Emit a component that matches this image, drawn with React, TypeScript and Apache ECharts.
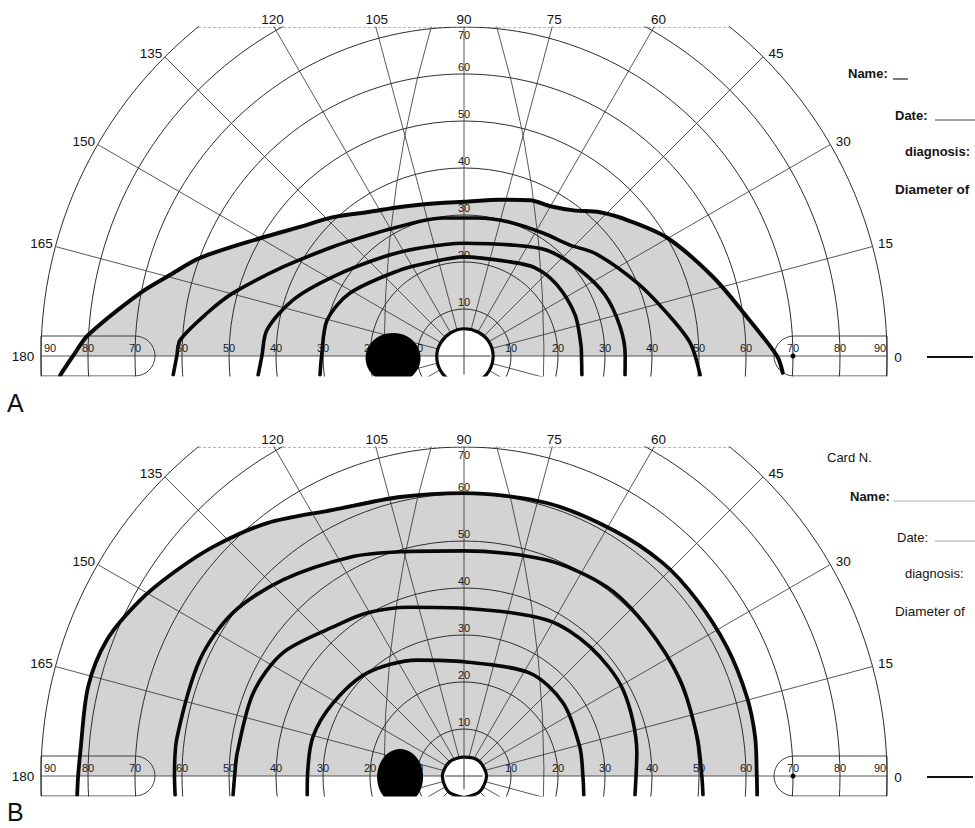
import React, { useEffect, useRef } from 'react';
import * as echarts from 'echarts';

// ---------- scale & grid ----------
const PX_PER_DEG = 4.7;
const CENTER_X = 464;
const MAX_ECC = 90;
const RING_INTERVAL = 10;
const MERIDIAN_INTERVAL = 15;
const MERIDIAN_LABELS = [0, 15, 30, 45, 60, 75, 90, 105, 120, 135, 150, 165, 180];
const RING_LABELS = [10, 20, 30, 40, 50, 60, 70, 80, 90];
const VERTICAL_RING_LABELS = [10, 20, 30, 40, 50, 60, 70];

// ---------- data: [eccentricity (deg), meridian (deg)] ----------
const A_ISOPTER_1 = [
  [86.0, 182.7], [83.2, 180], [80.1, 176.8], [70.2, 169.0], [64.9, 164.6], [59.9, 159.6],
  [50.1, 150.0], [44.4, 141.8], [40.6, 133.3], [36.6, 123], [34.5, 113.2], [33.0, 100],
  [32.8, 90], [34.1, 77], [36.0, 67], [36.8, 60], [38.8, 53], [42.1, 46.6], [45.2, 39.8],
  [50.0, 30.2], [55.6, 17.6], [60.8, 7.8], [66.6, 0], [67.9, -3.0],
];
const A_ISOPTER_2 = [
  [62.0, 183.7], [61.1, 180], [60.5, 176.8], [55.4, 170.5], [50.9, 164.7], [42.9, 153.8],
  [36.3, 140.2], [33.5, 131.4], [31.1, 119.0], [29.7, 98.7], [29.5, 84.6], [30.1, 71.1],
  [31.1, 57.3], [32.6, 46.5], [35.5, 37.8], [40.0, 22.9], [44.1, 12.0], [48.2, 3.3], [50.4, -4.6],
];
const A_ISOPTER_3 = [
  [44.0, 185.3], [43.0, 180], [42.3, 172.5], [38.3, 161.9], [32.6, 148.9], [27.2, 129.3],
  [24.8, 112.2], [24.0, 90], [25.6, 67.5], [28.6, 51.9], [30.7, 36.6], [32.7, 23.4],
  [33.8, 10.5], [34.3, 0], [34.5, -6.7],
];
const A_ISOPTER_4 = [
  [30.9, 187.5], [30.3, 180], [30.1, 165.3], [27.7, 151.1], [22.8, 126.7], [21.3, 111.7],
  [21.1, 90], [22.3, 63.9], [24.1, 51.1], [24.9, 37.4], [25.2, 20.3], [25.0, 5.4],
  [25.0, 0], [25.4, -9.1],
];
const A_CENTRAL = [
  [6.2, -90], [6.2, -60], [6.2, -30], [6.2, 0], [6.1, 30], [5.9, 60], [5.8, 90],
  [5.7, 120], [5.7, 150], [5.8, 180], [5.9, 210], [6.0, 240], [6.2, 270],
];
const A_BLIND_SPOT = [15.1, 181.6];

const B_ISOPTER_1 = [
  [82.4, 182.8], [82.1, 180], [81.8, 176.6], [82.2, 166.7], [81.3, 159.1], [78.4, 151.5],
  [75.5, 145.1], [72.3, 137.6], [68.2, 127.9], [63.1, 116.2], [60.9, 102.9], [60.2, 90],
  [60.7, 73.1], [61.2, 58.8], [62.0, 47.0], [62.1, 37.1], [62.3, 26.1], [62.5, 15.6],
  [62.5, 7.6], [62.3, 0], [62.5, -3.7],
];
const B_ISOPTER_2 = [
  [61.6, 183.8], [61.6, 180], [61.6, 172.3], [61.4, 156.3], [60.2, 144.8], [56.8, 132.7],
  [52.5, 117.5], [49.6, 105.9], [47.9, 90], [49.2, 69.0], [50.4, 52.9], [50.2, 39.2],
  [50.3, 24.0], [50.3, 9.5], [50.6, 0], [51.0, -4.5],
];
const B_ISOPTER_3 = [
  [49.3, 184.7], [48.8, 180], [48.5, 174.2], [48.2, 158.5], [46.6, 145.8], [42.2, 131.3],
  [40.4, 120.8], [37.7, 107.7], [35.7, 90], [37.6, 62.0], [38.4, 45.7], [38.5, 28.4],
  [37.1, 7.6], [36.6, 0], [36.6, -6.3],
];
const B_ISOPTER_4 = [
  [33.6, 186.9], [33.3, 180], [33.2, 165.5], [31.9, 150.9], [30.1, 133.3], [26.6, 112.1],
  [24.3, 90], [26.0, 57.4], [26.2, 36.4], [25.4, 14.0], [25.3, 0], [25.8, -9.0],
];
const B_CENTRAL = [
  [4.6, -90], [4.7, -45], [4.8, 0], [4.5, 45], [4.0, 90], [4.3, 135], [4.6, 180], [4.7, 225], [4.6, 270],
];
const B_BLIND_SPOT = [13.6, 180.9];

const FIXATION_MARK = [70, 0];

// ---------- panel layout ----------
const PANEL_A = {
  letter: 'A', top: 0, height: 420, cy: 356,
  isopters: [A_ISOPTER_1, A_ISOPTER_2, A_ISOPTER_3, A_ISOPTER_4],
  widths: [4, 3.6, 3.6, 3.6],
  central: A_CENTRAL, centralR: 5.6, blind: A_BLIND_SPOT, blindSize: [55, 50],
  letterBottom: 415,
  info: [
    { text: 'Name:', x: 848, dy: -283, weight: 'bold' },
    { text: 'Date:', x: 895, dy: -241, weight: 'bold' },
    { text: 'diagnosis:', x: 905, dy: -205, weight: 'bold' },
    { text: 'Diameter of', x: 895, dy: -167, weight: 'bold', size: 13.5 },
  ],
  rules: [
    { x1: 893, x2: 908, dy: -277, color: '#222', w: 1.2 },
    { x1: 935, x2: 975, dy: -236, color: '#444', w: 1 },
  ],
};
const PANEL_B = {
  letter: 'B', top: 420, height: 408, cy: 356,
  isopters: [B_ISOPTER_1, B_ISOPTER_2, B_ISOPTER_3, B_ISOPTER_4],
  widths: [3.8, 3.6, 3.6, 3.6],
  central: B_CENTRAL, centralR: 4.0, blind: B_BLIND_SPOT, blindSize: [46, 56],
  letterBottom: 404,
  info: [
    { text: 'Card N.', x: 827, dy: -319, weight: 'normal' },
    { text: 'Name:', x: 850, dy: -280, weight: 'bold' },
    { text: 'Date:', x: 897, dy: -239, weight: 'normal' },
    { text: 'diagnosis:', x: 905, dy: -203, weight: 'normal' },
    { text: 'Diameter of', x: 895, dy: -165, weight: 'normal', size: 13.5 },
  ],
  rules: [
    { x1: 893, x2: 975, dy: -275, color: '#999', w: 0.8 },
    { x1: 935, x2: 975, dy: -235, color: '#888', w: 0.8 },
  ],
};

const FONT = '"Liberation Sans", Arial, Helvetica, sans-serif';
const GRID_COLOR = '#2e2e2e';

function txt(x: number, y: number, text: string, o: any = {}) {
  const va = o.valign ?? 'middle';
  return {
    type: 'text', x, y, z: o.z ?? 30, silent: true,
    style: {
      text, fill: o.color ?? '#111', fontSize: o.size ?? 13, fontFamily: FONT,
      fontWeight: o.weight ?? 'normal',
      align: o.align ?? 'center', textAlign: o.align ?? 'center',
      verticalAlign: va, textVerticalAlign: va,
    },
  };
}

function buildOption(p: any) {
  const cx = CENTER_X;
  const cy = p.cy;
  const R = MAX_ECC * PX_PER_DEG;
  const topY = cy - 70 * PX_PER_DEG;
  const elements: any[] = [];

  // curved guide lines
  const arcOff = 232 * PX_PER_DEG;
  const arcR = 249 * PX_PER_DEG;
  elements.push({ type: 'arc', z: 3, silent: true, shape: { cx: cx - arcOff, cy, r: arcR, startAngle: -0.33, endAngle: 0.04 }, style: { stroke: GRID_COLOR, lineWidth: 0.8, fill: 'none' } });
  elements.push({ type: 'arc', z: 3, silent: true, shape: { cx: cx + arcOff, cy, r: arcR, startAngle: Math.PI - 0.04, endAngle: Math.PI + 0.33 }, style: { stroke: GRID_COLOR, lineWidth: 0.8, fill: 'none' } });
  // top frame line
  const half = Math.sqrt(R * R - (cy - topY) * (cy - topY));
  elements.push({ type: 'line', z: 3, silent: true, shape: { x1: cx - half, y1: topY + 0.5, x2: cx + half, y2: topY + 0.5 }, style: { stroke: '#b5b5b5', lineWidth: 1, lineDash: [3, 2] } });
  // horizontal scale boxes
  elements.push({ type: 'rect', z: 3, silent: true, shape: { x: cx - R, y: cy - 20, width: 114, height: 40, r: [0, 20, 20, 0] }, style: { stroke: GRID_COLOR, lineWidth: 0.9, fill: 'none' } });
  elements.push({ type: 'rect', z: 3, silent: true, shape: { x: cx + R - 113, y: cy - 20, width: 113, height: 40, r: [20, 0, 0, 20] }, style: { stroke: GRID_COLOR, lineWidth: 0.9, fill: 'none' } });
  // cross hair inside the central white zone (thin filled bars)
  const cr = p.centralR * PX_PER_DEG;
  elements.push({ type: 'rect', z: 37, silent: true, shape: { x: cx - 0.5, y: cy - cr, width: 1, height: cr * 1.7 }, style: { fill: '#3a3a3a' } });
  elements.push({ type: 'rect', z: 37, silent: true, shape: { x: cx - cr, y: cy - 0.5, width: cr * 2, height: 1 }, style: { fill: '#3a3a3a' } });
  // masks
  elements.push({ type: 'rect', z: 20, silent: true, shape: { x: 0, y: 0, width: 975, height: topY - 0.5 }, style: { fill: '#fff' } });
  elements.push({ type: 'rect', z: 36, silent: true, shape: { x: 0, y: cy + 20.5, width: 975, height: 200 }, style: { fill: '#fff' } });
  // right tick line
  elements.push({ type: 'line', z: 30, silent: true, shape: { x1: 927, y1: cy + 1, x2: 973, y2: cy + 1 }, style: { stroke: '#111', lineWidth: 2 } });

  // meridian labels
  MERIDIAN_LABELS.forEach((a) => {
    const rad = (a * Math.PI) / 180;
    let x: number, y: number;
    if (a === 0) { x = cx + R + 11; y = cy + 1; }
    else if (a === 180) { x = cx - R - 18; y = cy; }
    else if (a >= 60 && a <= 120) { y = cy - 337; x = cx + 337 / Math.tan(rad) + (a > 90 ? 3 : 0); }
    else {
      x = cx + R * Math.cos(rad) + (a < 90 ? 13 : -14);
      y = cy - R * Math.sin(rad) - 3;
    }
    elements.push(txt(x, y, String(a), { size: 13.5 }));
  });
  // ring labels along the horizontal meridian
  RING_LABELS.forEach((v) => {
    const d = v * PX_PER_DEG;
    const inset = v === 90 ? 9 : 0;
    elements.push(txt(cx - d + inset, cy - 8, String(v), { size: 11, color: '#1a1a1a' }));
    elements.push(txt(cx + d - (v === 90 ? 7 : 0), cy - 8, String(v), { size: 11, color: '#1a1a1a' }));
  });
  // ring labels along the vertical meridian
  VERTICAL_RING_LABELS.forEach((v) => {
    const y = v === 70 ? cy - 321 : cy - v * PX_PER_DEG - 7;
    elements.push(txt(cx, y, String(v), { size: 11, color: '#1a1a1a' }));
  });
  // info texts
  p.info.forEach((t: any) => {
    elements.push(txt(t.x, cy + t.dy, t.text, { align: 'left', weight: t.weight, size: t.size ?? 13, color: '#141414' }));
  });
  p.rules.forEach((r: any) => {
    elements.push({ type: 'line', z: 30, silent: true, shape: { x1: r.x1, y1: cy + r.dy, x2: r.x2, y2: cy + r.dy }, style: { stroke: r.color, lineWidth: r.w } });
  });
  // panel letter
  elements.push(txt(7, p.letterBottom, p.letter, { align: 'left', valign: 'bottom', size: 25, z: 40, color: '#111' }));

  const lineSeries = (data: number[][], width: number) => ({
    type: 'line', coordinateSystem: 'polar', polarIndex: 0, data,
    smooth: 0.3, symbol: 'none', showSymbol: false, silent: true,
    lineStyle: { color: '#080808', width, cap: 'round', join: 'round' }, z: 7,
  });

  const outer = p.isopters[0];
  const series: any[] = [
    {
      type: 'line', coordinateSystem: 'polar', polarIndex: 0,
      data: outer.filter((d: number[]) => d[1] >= 0 && d[1] <= 180),
      smooth: 0.3, symbol: 'none', showSymbol: false, silent: true,
      lineStyle: { width: 0, opacity: 0 }, areaStyle: { color: '#d3d3d3', opacity: 1 }, z: 1,
    },
    {
      type: 'line', coordinateSystem: 'polar', polarIndex: 0, data: p.central,
      smooth: 0.3, symbol: 'none', showSymbol: false, silent: true,
      lineStyle: { width: 0, opacity: 0 }, areaStyle: { color: '#ffffff', opacity: 1 }, z: 5,
    },
    ...p.isopters.map((d: number[][], i: number) => lineSeries(d, p.widths[i])),
    lineSeries(p.central, 3.2),
    {
      type: 'scatter', coordinateSystem: 'polar', polarIndex: 0, data: [FIXATION_MARK],
      symbol: 'circle', symbolSize: 5, itemStyle: { color: '#000', opacity: 1 }, z: 7, silent: true,
    },
    {
      type: 'scatter', coordinateSystem: 'polar', polarIndex: 0, data: [p.blind],
      symbol: 'circle', symbolSize: p.blindSize, itemStyle: { color: '#000', opacity: 1 }, z: 35, silent: true,
    },
  ];

  return {
    animation: false,
    backgroundColor: '#ffffff',
    polar: [{ center: [cx, cy], radius: R }],
    angleAxis: {
      polarIndex: 0, type: 'value', min: -90, max: 270, interval: MERIDIAN_INTERVAL,
      startAngle: 270, clockwise: false, z: 3,
      axisLine: { show: false }, axisTick: { show: false }, axisLabel: { show: false },
      splitLine: { show: true, lineStyle: { color: GRID_COLOR, width: 0.8 } },
    },
    radiusAxis: {
      polarIndex: 0, type: 'value', min: 0, max: MAX_ECC, interval: RING_INTERVAL, z: 3,
      axisLine: { show: false }, axisTick: { show: false }, axisLabel: { show: false },
      splitLine: { show: true, lineStyle: { color: GRID_COLOR, width: 1 } },
    },
    series,
    graphic: { elements },
  };
}

export default function App() {
  const refA = useRef<HTMLDivElement>(null);
  const refB = useRef<HTMLDivElement>(null);
  useEffect(() => {
    const charts: any[] = [];
    const pairs: [any, any][] = [[refA, PANEL_A], [refB, PANEL_B]];
    pairs.forEach(([ref, cfg]) => {
      if (!ref.current) return;
      const c = echarts.init(ref.current, null, { renderer: 'svg' });
      c.setOption(buildOption(cfg));
      charts.push(c);
    });
    return () => charts.forEach((c) => c.dispose());
  }, []);
  return (
    <div style={{ position: 'absolute', left: 0, top: 0, width: 975, height: 828, background: '#fff', overflow: 'hidden' }}>
      <div ref={refA} style={{ position: 'absolute', left: 0, top: PANEL_A.top, width: 975, height: PANEL_A.height }} />
      <div ref={refB} style={{ position: 'absolute', left: 0, top: PANEL_B.top, width: 975, height: PANEL_B.height }} />
    </div>
  );
}
